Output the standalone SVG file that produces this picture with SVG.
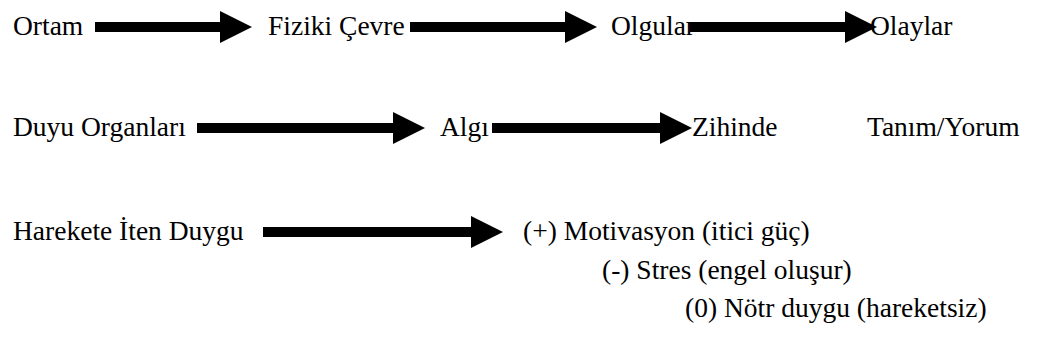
<svg xmlns="http://www.w3.org/2000/svg" width="1051" height="356" viewBox="0 0 1051 356">
<style>
text{font-family:"Liberation Serif","Times New Roman",serif;font-size:27.5px;fill:#000}
.arrow{fill:#000}
</style>
<rect width="1051" height="356" fill="#fff"/>
<g id="connectors">
<path class="arrow" d="M95,22 H220 V11 L252,27 L220,43 V32 H95 Z"/>
<path class="arrow" d="M410,22 H565 V11 L597,27 L565,43 V32 H410 Z"/>
<path class="arrow" d="M690,22 H845 V11 L877,27 L845,43 V32 H690 Z"/>
<path class="arrow" d="M197,123 H393 V112 L425,128 L393,144 V133 H197 Z"/>
<path class="arrow" d="M492,123 H660 V112 L692,128 L660,144 V133 H492 Z"/>
<path class="arrow" d="M263,227 H471 V216 L503,232 L471,248 V237 H263 Z"/>
</g>
<g id="n-ortam"><text x="13" y="35">Ortam</text></g>
<g id="n-fiziki"><text x="268" y="35">Fiziki Çevre</text></g>
<g id="n-olgular"><text x="611" y="35">Olgular</text></g>
<g id="n-olaylar"><text x="870" y="35">Olaylar</text></g>
<g id="n-duyu"><text x="13" y="136">Duyu Organları</text></g>
<g id="n-algi"><text x="440" y="136">Algı</text></g>
<g id="n-zihinde"><text x="692" y="136">Zihinde</text></g>
<g id="n-tanim"><text x="867" y="136">Tanım/Yorum</text></g>
<g id="n-harekete"><text x="13" y="240">Harekete İten Duygu</text></g>
<g id="n-motivasyon"><text x="523" y="240">(+) Motivasyon (itici güç)</text></g>
<g id="n-stres"><text x="602" y="279">(-) Stres (engel oluşur)</text></g>
<g id="n-notr"><text x="685" y="317">(0) Nötr duygu (hareketsiz)</text></g>
</svg>
